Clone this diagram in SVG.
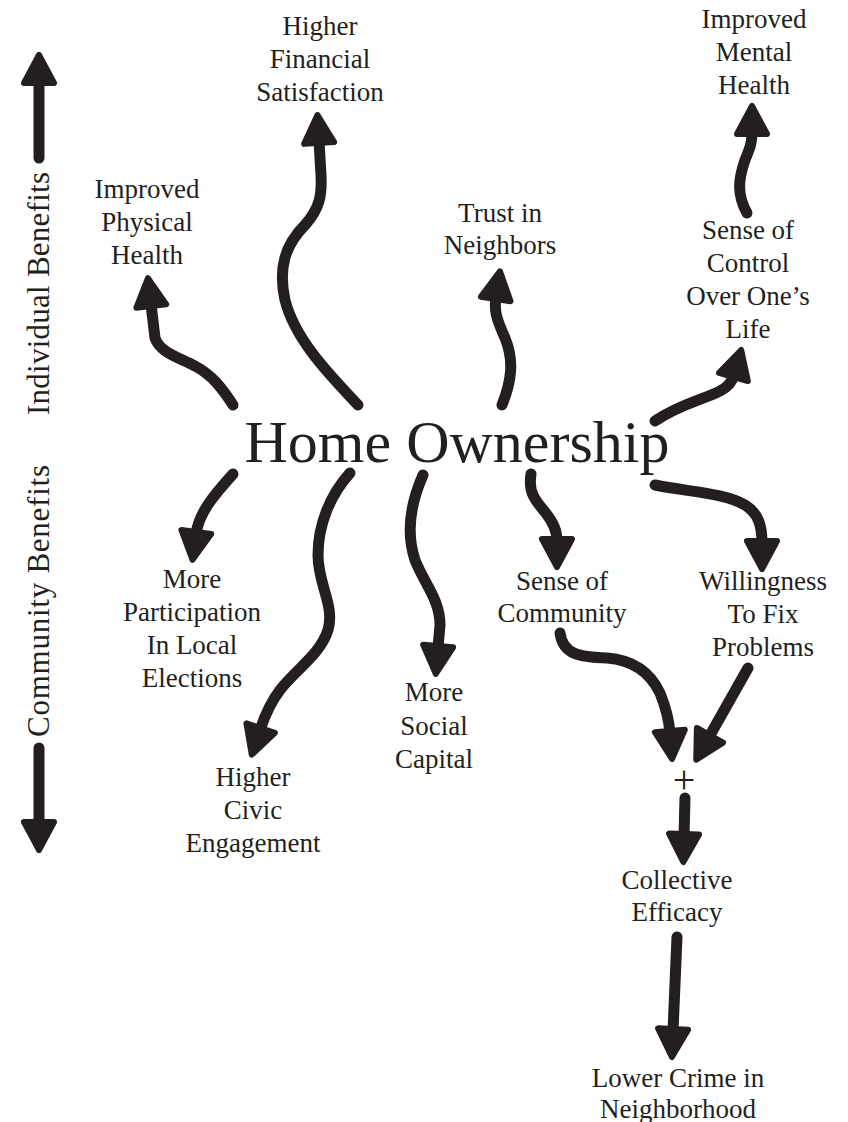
<svg xmlns="http://www.w3.org/2000/svg" width="848" height="1122" viewBox="0 0 848 1122">
<style>
.lbl{font-family:"Liberation Serif","Times New Roman",serif;font-size:27px;fill:#231f20;text-anchor:middle}
.side{font-family:"Liberation Serif","Times New Roman",serif;font-size:31px;fill:#231f20;text-anchor:middle}
.title{font-family:"Liberation Serif","Times New Roman",serif;font-size:60px;fill:#231f20;text-anchor:middle}
.c{fill:none;stroke:#231f20;stroke-width:11;stroke-linecap:round;stroke-linejoin:round;marker-end:url(#ah)}
</style>
<defs>
<marker id="ah" markerUnits="userSpaceOnUse" viewBox="-10 -25 50 50" markerWidth="50" markerHeight="50" refX="0" refY="0" orient="auto" overflow="visible">
<path d="M-2,-15 L26,0 L-2,15 Z" fill="#231f20" stroke="#231f20" stroke-width="6" stroke-linejoin="round"/>
</marker>
</defs>
<rect width="848" height="1122" fill="#ffffff"/>

<g id="axis-individual">
<text class="side" transform="translate(49,293.5) rotate(-90)" textLength="243">Individual Benefits</text>
</g>
<g id="axis-community">
<text class="side" transform="translate(49,601) rotate(-90)" textLength="272">Community Benefits</text>
</g>

<g id="home-ownership"><text class="title" x="457" y="462" textLength="425">Home Ownership</text></g>
<g id="physical-health"><text class="lbl" x="147" y="198">Improved</text><text class="lbl" x="147" y="231">Physical</text><text class="lbl" x="147" y="264">Health</text></g>
<g id="financial"><text class="lbl" x="320" y="35">Higher</text><text class="lbl" x="320" y="68">Financial</text><text class="lbl" x="320" y="101">Satisfaction</text></g>
<g id="trust"><text class="lbl" x="500" y="222">Trust in</text><text class="lbl" x="500" y="254">Neighbors</text></g>
<g id="mental-health"><text class="lbl" x="754" y="28">Improved</text><text class="lbl" x="754" y="61">Mental</text><text class="lbl" x="754" y="94">Health</text></g>
<g id="control"><text class="lbl" x="748" y="239">Sense of</text><text class="lbl" x="748" y="272">Control</text><text class="lbl" x="748" y="305">Over One’s</text><text class="lbl" x="748" y="338">Life</text></g>
<g id="elections"><text class="lbl" x="192" y="588">More</text><text class="lbl" x="192" y="621">Participation</text><text class="lbl" x="192" y="654">In Local</text><text class="lbl" x="192" y="687">Elections</text></g>
<g id="civic"><text class="lbl" x="253" y="786">Higher</text><text class="lbl" x="253" y="819">Civic</text><text class="lbl" x="253" y="852">Engagement</text></g>
<g id="social-capital"><text class="lbl" x="434" y="701">More</text><text class="lbl" x="434" y="735">Social</text><text class="lbl" x="434" y="768">Capital</text></g>
<g id="community"><text class="lbl" x="562" y="590">Sense of</text><text class="lbl" x="562" y="622">Community</text></g>
<g id="willingness"><text class="lbl" x="763" y="590">Willingness</text><text class="lbl" x="763" y="623">To Fix</text><text class="lbl" x="763" y="656">Problems</text></g>
<g id="plus"><text class="lbl" x="684" y="793" style="font-size:40px">+</text></g>
<g id="efficacy"><text class="lbl" x="677" y="889">Collective</text><text class="lbl" x="677" y="921">Efficacy</text></g>
<g id="crime"><text class="lbl" x="678" y="1087">Lower Crime in</text><text class="lbl" x="678" y="1118">Neighborhood</text></g>

<g id="connectors">
<path class="c" d="M39,158 L39,81"/>
<path class="c" d="M39,748 L39,824"/>
<path class="c" d="M233,405 C222,388 212,375 195,366 C175,356 160,352 155,338 L151,304"/>
<path class="c" d="M358,405 C330,375 295,340 285,300 C278,268 285,245 305,225 C320,208 322,195 321,175 L319,141"/>
<path class="c" d="M502,405 C512,380 514,360 505,338 C496,318 494,310 496,297"/>
<path class="c" d="M747,213 C737,195 738,180 745,160 C750,148 752,143 752,132"/>
<path class="c" d="M655,421 C680,404 705,399 720,391 C728,387 732,382 734,375"/>
<path class="c" d="M233,474 C215,494 199,512 196,534"/>
<path class="c" d="M350,473 C330,495 318,525 318,555 C318,585 335,605 328,630 C320,655 295,670 280,690 C270,703 265,715 260,730"/>
<path class="c" d="M423,475 C412,500 405,530 415,560 C425,585 440,600 440,625 L438,648"/>
<path class="c" d="M531,474 C528,492 535,500 545,512 C553,522 557,530 557,541"/>
<path class="c" d="M655,485 C690,492 725,493 745,505 C758,513 762,525 762,543"/>
<path class="c" d="M560,633 C563,655 580,657 607,658 C633,660 650,672 660,693 C666,708 669,720 670,733"/>
<path class="c" d="M748,668 L709,737"/>
<path class="c" d="M685,798 L684,836"/>
<path class="c" d="M677,937 L673,1031"/>
</g>
</svg>
